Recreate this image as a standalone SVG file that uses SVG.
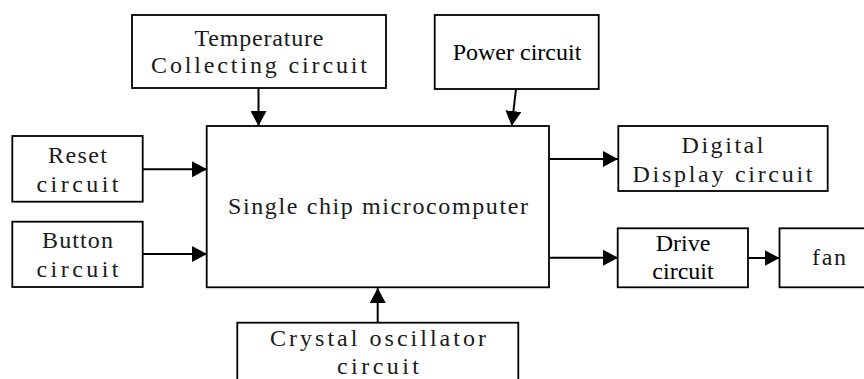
<svg xmlns="http://www.w3.org/2000/svg" width="864" height="379" viewBox="0 0 864 379">
<style>
.box{fill:#fff;stroke:#000;stroke-width:1.8}
.m{font-family:"Liberation Serif","Times New Roman",serif;font-size:24px;fill:#1a1a1a;text-anchor:middle}
.s{font-family:"Liberation Serif","Times New Roman",serif;font-size:24px;fill:#000;text-anchor:middle}
.c{stroke:#000;stroke-width:2;fill:none;marker-end:url(#ah)}
</style>
<defs>
<marker id="ah" markerUnits="userSpaceOnUse" markerWidth="16" markerHeight="16" refX="15" refY="8" orient="auto">
<path d="M0,0 L15,8 L0,16 z" fill="#000"/>
</marker>
</defs>
<rect width="864" height="379" fill="#fff"/>
<g id="connectors">
<line class="c" x1="258.5" y1="88" x2="258.5" y2="126"/>
<line class="c" x1="516" y1="89" x2="511.7" y2="126"/>
<line class="c" x1="143" y1="169.3" x2="207" y2="169.3"/>
<line class="c" x1="143" y1="254" x2="207" y2="254"/>
<line class="c" x1="549" y1="159" x2="618" y2="159"/>
<line class="c" x1="549" y1="257.7" x2="618" y2="257.7"/>
<line class="c" x1="748" y1="258" x2="779.5" y2="258"/>
<line class="c" x1="377.7" y1="322.7" x2="377.7" y2="288"/>
</g>
<g id="temp">
<rect class="box" x="132" y="15" width="254" height="73"/>
<text class="m" x="259" y="46" textLength="129" lengthAdjust="spacing">Temperature</text>
<text class="m" x="259" y="73" textLength="216" lengthAdjust="spacing">Collecting circuit</text>
</g>
<g id="power">
<rect class="box" x="434.7" y="15" width="164" height="74"/>
<text class="s" x="517" y="60">Power circuit</text>
</g>
<g id="reset">
<rect class="box" x="12.3" y="136" width="130.4" height="65.7"/>
<text class="m" x="77.5" y="162.7" textLength="59" lengthAdjust="spacing">Reset</text>
<text class="m" x="77.5" y="191.5" textLength="82" lengthAdjust="spacing">circuit</text>
</g>
<g id="button">
<rect class="box" x="12.3" y="221.7" width="130.4" height="65.3"/>
<text class="m" x="77.5" y="248" textLength="71" lengthAdjust="spacing">Button</text>
<text class="m" x="77.5" y="277" textLength="82" lengthAdjust="spacing">circuit</text>
</g>
<g id="mcu">
<rect class="box" x="206.7" y="126" width="342.3" height="161.3"/>
<text class="m" x="378" y="214" textLength="300" lengthAdjust="spacing">Single chip microcomputer</text>
</g>
<g id="display">
<rect class="box" x="618.3" y="126" width="209.4" height="65"/>
<text class="m" x="722.5" y="153" textLength="82" lengthAdjust="spacing">Digital</text>
<text class="m" x="722.5" y="182" textLength="180" lengthAdjust="spacing">Display circuit</text>
</g>
<g id="drive">
<rect class="box" x="617.7" y="228.3" width="130.3" height="59"/>
<text class="s" x="683" y="251">Drive</text>
<text class="s" x="683" y="279">circuit</text>
</g>
<g id="fan">
<rect class="box" x="779.5" y="228.3" width="100" height="59"/>
<text class="m" x="829" y="265" textLength="34" lengthAdjust="spacing">fan</text>
</g>
<g id="crystal">
<rect class="box" x="237.3" y="322.7" width="281" height="70"/>
<text class="m" x="378" y="346" textLength="216" lengthAdjust="spacing">Crystal oscillator</text>
<text class="m" x="378" y="374" textLength="82" lengthAdjust="spacing">circuit</text>
</g>
</svg>
